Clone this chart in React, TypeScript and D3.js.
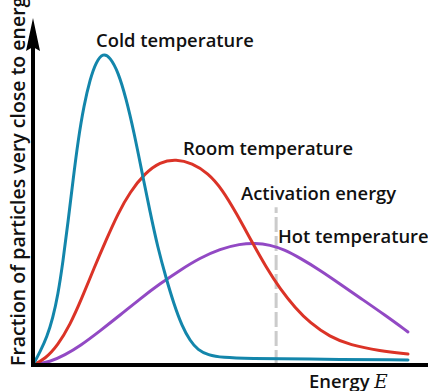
import React, { useEffect, useRef } from "react";
import * as d3 from "d3";

// energy values (arbitrary units, 0..10) and fraction of particles (peak of cold = 1)
const coldEnergy = [0, 0.18, 0.36, 0.51, 0.64, 0.77, 0.9, 1.03, 1.16, 1.31, 1.47, 1.62, 1.8, 1.98, 2.19, 2.39, 2.6, 2.8, 3.01, 3.21, 3.42, 3.62, 3.83, 4.04, 4.24, 4.5, 4.86, 5.58, 6.86, 9.64];
const coldFraction = [0, 0.042, 0.09, 0.151, 0.224, 0.33, 0.458, 0.593, 0.721, 0.833, 0.917, 0.971, 1.0, 0.987, 0.939, 0.856, 0.744, 0.619, 0.49, 0.375, 0.279, 0.196, 0.125, 0.077, 0.048, 0.032, 0.024, 0.021, 0.019, 0.016];

const roomEnergy = [0, 0.31, 0.64, 0.95, 1.26, 1.57, 1.88, 2.19, 2.49, 2.88, 3.26, 3.68, 4.09, 4.5, 4.86, 5.24, 5.63, 5.99, 6.35, 6.74, 7.12, 7.63, 8.15, 8.92, 9.64];
const roomFraction = [0, 0.019, 0.064, 0.128, 0.215, 0.311, 0.401, 0.487, 0.554, 0.615, 0.651, 0.66, 0.647, 0.615, 0.564, 0.484, 0.394, 0.314, 0.244, 0.183, 0.135, 0.09, 0.064, 0.045, 0.035];

const hotEnergy = [0, 0.44, 0.82, 1.21, 1.72, 2.24, 2.75, 3.26, 3.78, 4.29, 4.81, 5.32, 5.71, 6.09, 6.48, 6.86, 7.38, 7.89, 8.41, 9.05, 9.64];
const hotFraction = [0, 0.01, 0.032, 0.061, 0.109, 0.16, 0.212, 0.26, 0.304, 0.343, 0.372, 0.388, 0.391, 0.385, 0.369, 0.343, 0.304, 0.26, 0.215, 0.16, 0.106];

const activationEnergy = 6.25;
const activationTop = 0.506;

const seriesNames = ["Cold temperature", "Room temperature", "Hot temperature"];
const seriesColors = ["#1386ab", "#db3327", "#9249c4"];

const App = () => {
  const svgRef = useRef<SVGSVGElement>(null);

  useEffect(() => {
    const svg = d3.select(svgRef.current);
    svg.selectAll("*").remove();

    const width = 428;
    const origin = { x: 33, y: 365 };

    const x = d3.scaleLinear().domain([0, 10]).range([origin.x, 422]);
    const y = d3.scaleLinear().domain([0, 1]).range([origin.y, 53]);

    const font = "'Open Sans', sans-serif";

    const series = [
      { e: coldEnergy, f: coldFraction },
      { e: roomEnergy, f: roomFraction },
      { e: hotEnergy, f: hotFraction },
    ];

    const line = d3
      .line<[number, number]>()
      .x((d) => x(d[0]))
      .y((d) => y(d[1]))
      .curve(d3.curveBasis);

    // activation energy marker
    svg
      .append("line")
      .attr("x1", x(activationEnergy))
      .attr("x2", x(activationEnergy))
      .attr("y1", y(0))
      .attr("y2", y(activationTop))
      .attr("stroke", "#cbcbcb")
      .attr("stroke-width", 3)
      .attr("stroke-dasharray", "15 4");

    // curves (hot first so cold sits on top)
    [2, 1, 0].forEach((i) => {
      const s = series[i];
      const pts = s.e.map((e, j) => [e, s.f[j]] as [number, number]);
      svg
        .append("path")
        .attr("d", line(pts))
        .attr("fill", "none")
        .attr("stroke", seriesColors[i])
        .attr("stroke-width", 3)
        .attr("stroke-linecap", "round");
    });

    // axes
    svg
      .append("line")
      .attr("x1", origin.x)
      .attr("x2", width)
      .attr("y1", origin.y)
      .attr("y2", origin.y)
      .attr("stroke", "#000")
      .attr("stroke-width", 4);

    svg
      .append("line")
      .attr("x1", origin.x)
      .attr("x2", origin.x)
      .attr("y1", origin.y + 2)
      .attr("y2", 45)
      .attr("stroke", "#000")
      .attr("stroke-width", 4);

    svg
      .append("path")
      .attr("d", `M${origin.x},18 L${origin.x + 7},51 L${origin.x},47 L${origin.x - 7},51 Z`)
      .attr("fill", "#000");

    // labels
    const labels = [
      { t: seriesNames[0], x: 96, y: 47 },
      { t: seriesNames[1], x: 183, y: 155 },
      { t: "Activation energy", x: 241, y: 200 },
      { t: seriesNames[2], x: 278, y: 243 },
    ];
    svg
      .selectAll(".lbl")
      .data(labels)
      .enter()
      .append("text")
      .attr("class", "lbl")
      .attr("x", (d) => d.x)
      .attr("y", (d) => d.y)
      .attr("font-family", font)
      .attr("font-size", 18.4)
      .attr("font-weight", 600)
      .attr("fill", "#111")
      .text((d) => d.t);

    const xTitle = svg
      .append("text")
      .attr("x", 309)
      .attr("y", 388)
      .attr("font-family", font)
      .attr("font-size", 18.4)
      .attr("font-weight", 600)
      .attr("fill", "#111");
    xTitle.append("tspan").text("Energy ");
    xTitle
      .append("tspan")
      .attr("font-family", "'DejaVu Serif', serif")
      .attr("font-style", "italic")
      .attr("font-weight", 400)
      .text("E");

    const yTitle = svg
      .append("text")
      .attr("transform", `translate(25,366) rotate(-90)`)
      .attr("font-family", font)
      .attr("font-size", 19.5)
      .attr("font-weight", 600)
      .attr("fill", "#111");
    yTitle.append("tspan").text("Fraction of particles very close to energy ");
    yTitle
      .append("tspan")
      .attr("font-family", "'DejaVu Serif', serif")
      .attr("font-style", "italic")
      .attr("font-weight", 400)
      .text("E");
  }, []);

  return (
    <svg
      ref={svgRef}
      width={428}
      height={391}
      style={{ position: "absolute", left: 0, top: 0, background: "#fff" }}
    ></svg>
  );
};

export default App;
